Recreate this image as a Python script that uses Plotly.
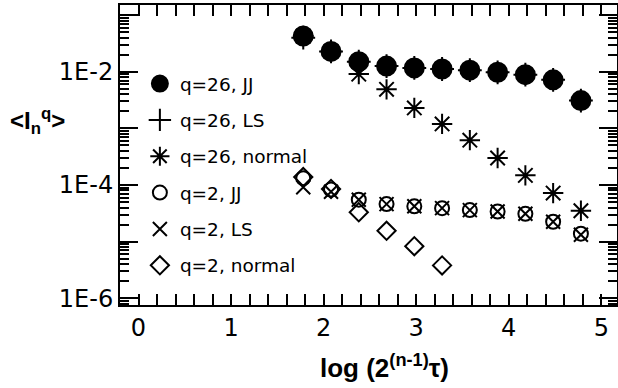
import plotly.graph_objects as go

# x = log(2^(n-1) tau)
x_vals = [1.78, 2.08, 2.38, 2.68, 2.98, 3.28, 3.58, 3.88, 4.18, 4.48, 4.78]

q26_jj = [0.0427, 0.0229, 0.0151, 0.0126, 0.0117, 0.0112, 0.0107, 0.0098, 0.0089, 0.0072, 0.0031]
q26_ls = [0.0400, 0.0229, 0.0151, 0.0126, 0.0117, 0.0112, 0.0107, 0.0098, 0.0089, 0.0072, 0.0031]
q26_normal = [0.0427, 0.0229, 0.0091, 0.0049, 0.0023, 0.0012, 0.00062, 0.00030, 0.000148, 0.000072, 0.000035]

q2_jj = [1.32e-4, 8.3e-5, 5.5e-5, 4.6e-5, 4.2e-5, 3.9e-5, 3.6e-5, 3.4e-5, 3.1e-5, 2.24e-5, 1.38e-5]
q2_ls = [9.1e-5, 7.6e-5, 5.5e-5, 4.6e-5, 4.2e-5, 3.9e-5, 3.6e-5, 3.4e-5, 3.1e-5, 2.24e-5, 1.32e-5]
q2_normal_x = [1.78, 2.08, 2.38, 2.68, 2.98, 3.28]
q2_normal = [1.38e-4, 8.5e-5, 3.3e-5, 1.55e-5, 8.3e-6, 3.8e-6]

y_label_vals = [1e-6, 1e-4, 1e-2]
y_label_text = ["1E-6", "1E-4", "1E-2"]
y_odd_decades = [1e-5, 1e-3, 1e-1]
x_tickvals = [0, 1, 2, 3, 4, 5]

FONT = "DejaVu Sans, Arial, sans-serif"
TITLE_FONT = "Arial, Liberation Sans, sans-serif"
Y_RANGE = [-6.12, -0.82]

fig = go.Figure()

traces = [
    ("q=26, normal", x_vals, q26_normal, "asterisk-open", 17, 3),
    ("q=26, LS", x_vals, q26_ls, "cross-thin-open", 17, 2),
    ("q=26, JJ", x_vals, q26_jj, "circle", 19, 1),
    ("q=2, normal", q2_normal_x, q2_normal, "diamond-open", 14, 6),
    ("q=2, LS", x_vals, q2_ls, "x-thin-open", 14, 5),
    ("q=2, JJ", x_vals, q2_jj, "circle-open", 14, 4),
]
for name, xs, ys, sym, size, rank in traces:
    fig.add_trace(go.Scatter(
        x=xs, y=ys, mode="markers", name=name,
        legendgroup=name, legendrank=rank,
        marker=dict(symbol=sym, size=size, color="black",
                    line=dict(color="black", width=2)),
    ))

fig.update_layout(
    width=618, height=388,
    margin=dict(l=120, r=1, t=5, b=83, autoexpand=False),
    paper_bgcolor="white", plot_bgcolor="white",
    font=dict(family=FONT, color="black", size=24),
    showlegend=True,
    legend=dict(x=0.04, y=0.80, xanchor="left", yanchor="top",
                font=dict(size=18.5, family=FONT, color="black"),
                bgcolor="rgba(0,0,0,0)", tracegroupgap=9.3,
                itemsizing="trace"),
)

fig.update_xaxes(
    range=[-0.2, 5.17], tickvals=x_tickvals, automargin=False,
    ticks="inside", ticklen=11, tickwidth=2, tickcolor="black",
    showline=True, linewidth=2, linecolor="black", mirror="allticks",
    showgrid=False, zeroline=False,
    tickfont=dict(size=24, family=FONT),
    minor=dict(ticks="inside", dtick=0.2, ticklen=6, tickwidth=1.5,
               tickcolor="black", showgrid=False),
)
fig.update_layout(
    yaxis=dict(
        type="log", range=Y_RANGE, automargin=False,
        tickvals=y_label_vals, ticktext=y_label_text,
        ticks="inside", ticklen=18, tickwidth=2, tickcolor="black",
        showline=True, linewidth=2, linecolor="black", mirror="allticks",
        showgrid=False, zeroline=False,
        tickfont=dict(size=24, family=FONT),
        minor=dict(ticks="inside", dtick="D1", ticklen=9, tickwidth=1.5,
                   tickcolor="black", showgrid=False),
    ),
    yaxis2=dict(
        type="log", range=Y_RANGE, automargin=False, overlaying="y",
        side="left", tickvals=y_odd_decades, showticklabels=False,
        ticks="inside", ticklen=18, tickwidth=2, tickcolor="black",
        showline=False, mirror="allticks",
        showgrid=False, zeroline=False,
    ),
)
# invisible helper trace so the odd-decade tick axis is drawn
fig.add_trace(go.Scatter(x=[x_vals[0]], y=[q26_jj[0]], yaxis="y2", mode="markers",
                         marker=dict(opacity=0), showlegend=False, hoverinfo="skip"))

fig.add_annotation(
    text="<b>log (2<sup>(n-1)</sup>τ)</b>", xref="paper", yref="paper",
    x=0.532, y=-0.205, showarrow=False, xanchor="center", yanchor="middle",
    font=dict(size=26, family=TITLE_FONT, color="black"),
)
fig.add_annotation(
    text="<b>&lt;I<sub>n</sub><sup>q</sup>&gt;</b>", xref="paper", yref="paper",
    x=-0.167, y=0.612, showarrow=False, xanchor="center", yanchor="middle",
    font=dict(size=24, family=TITLE_FONT, color="black"),
)

fig.write_html("out.html",
               config={"displayModeBar": False},
               post_script="document.body.style.margin='0';document.body.style.padding='0';")
